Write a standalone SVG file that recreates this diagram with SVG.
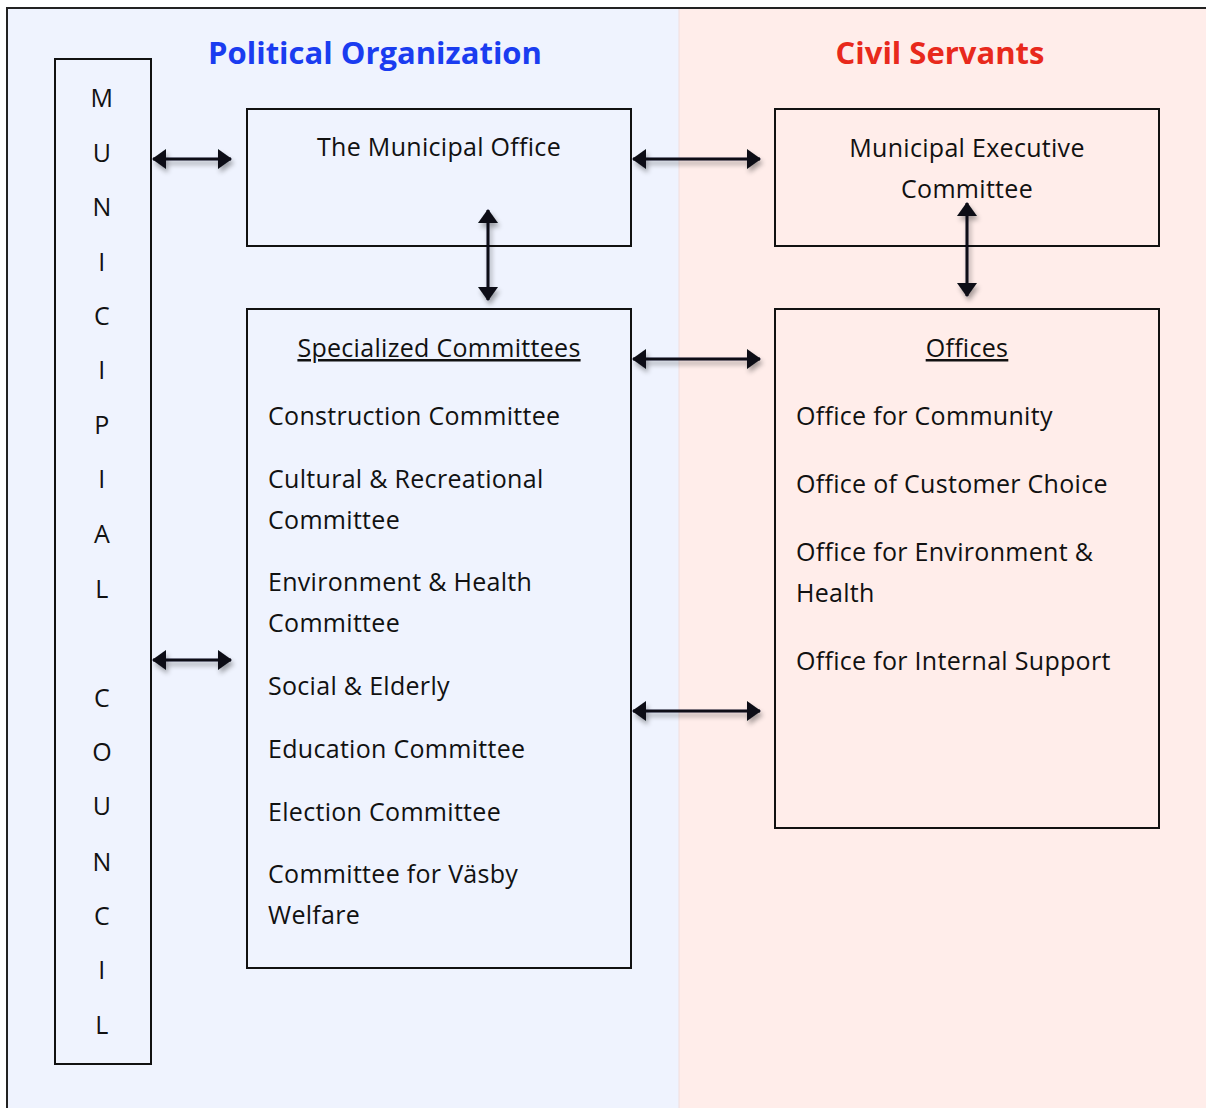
<svg xmlns="http://www.w3.org/2000/svg" width="1206" height="1108" viewBox="0 0 1206 1108">
<defs>
<style>
.box{fill:none;stroke:#111;stroke-width:2}
.t{font-family:"Open Sans","Noto Sans",sans-serif;font-size:25px;fill:#111;letter-spacing:0.3px}
.c{text-anchor:middle}
.h{font-family:"Open Sans","Noto Sans",sans-serif;font-size:31px;font-weight:bold;text-anchor:middle}
.ln{stroke:#0a0d14;stroke-width:3;fill:none;marker-start:url(#ah);marker-end:url(#ah)}
</style>
<marker id="ah" viewBox="0 0 14 20" refX="13" refY="10" markerWidth="14" markerHeight="20" markerUnits="userSpaceOnUse" orient="auto-start-reverse">
<path d="M0,0 L14,10 L0,20 Z" fill="#0a0d14"/>
</marker>
<filter id="sh" x="-20%" y="-50%" width="140%" height="200%">
<feGaussianBlur in="SourceAlpha" stdDeviation="2.5"/>
<feOffset dx="2" dy="4" result="b"/>
<feComponentTransfer><feFuncA type="linear" slope="0.35"/></feComponentTransfer>
<feMerge><feMergeNode/><feMergeNode in="SourceGraphic"/></feMerge>
</filter>
</defs>
<rect x="0" y="0" width="1206" height="1108" fill="#ffffff"/>
<rect x="7" y="8" width="672" height="1100" fill="#eff3fe"/>
<rect x="679" y="8" width="527" height="1100" fill="#ffedea"/>
<line x1="679" y1="8" x2="679" y2="1108" stroke="#f0dede" stroke-width="1"/>
<path d="M7,1108 V8 H1206" fill="none" stroke="#222" stroke-width="2"/>
<text class="h" x="375" y="64" fill="#1a3cf0">Political Organization</text>
<text class="h" x="940" y="64" fill="#e8291c">Civil Servants</text>
<g id="council">
<rect class="box" x="55" y="59" width="96" height="1005"/>
<g class="t c">
<text x="102" y="107">M</text><text x="102" y="162">U</text><text x="102" y="216">N</text><text x="102" y="271">I</text><text x="102" y="325">C</text><text x="102" y="379">I</text><text x="102" y="434">P</text><text x="102" y="488">I</text><text x="102" y="543">A</text><text x="102" y="598">L</text>
<text x="102" y="707">C</text><text x="102" y="761">O</text><text x="102" y="815">U</text><text x="102" y="871">N</text><text x="102" y="925">C</text><text x="102" y="979">I</text><text x="102" y="1034">L</text>
</g>
</g>
<g id="municipal-office">
<rect class="box" x="247" y="109" width="384" height="137"/>
<text class="t c" x="439" y="156">The Municipal Office</text>
</g>
<g id="executive-committee">
<rect class="box" x="775" y="109" width="384" height="137"/>
<text class="t c" x="967" y="157">Municipal Executive</text>
<text class="t c" x="967" y="198">Committee</text>
</g>
<g id="specialized-committees">
<rect class="box" x="247" y="309" width="384" height="659"/>
<text class="t c" x="439" y="357" text-decoration="underline">Specialized Committees</text>
<g class="t">
<text x="268" y="425">Construction Committee</text>
<text x="268" y="488">Cultural &amp; Recreational</text>
<text x="268" y="529">Committee</text>
<text x="268" y="591">Environment &amp; Health</text>
<text x="268" y="632">Committee</text>
<text x="268" y="695">Social &amp; Elderly</text>
<text x="268" y="758">Education Committee</text>
<text x="268" y="821">Election Committee</text>
<text x="268" y="883">Committee for Väsby</text>
<text x="268" y="924">Welfare</text>
</g>
</g>
<g id="offices">
<rect class="box" x="775" y="309" width="384" height="519"/>
<text class="t c" x="967" y="357" text-decoration="underline">Offices</text>
<g class="t">
<text x="796" y="425">Office for Community</text>
<text x="796" y="493">Office of Customer Choice</text>
<text x="796" y="561">Office for Environment &amp;</text>
<text x="796" y="602">Health</text>
<text x="796" y="670">Office for Internal Support</text>
</g>
</g>
<g id="connectors" filter="url(#sh)">
<line class="ln" x1="153" y1="159" x2="231" y2="159"/>
<line class="ln" x1="153" y1="660" x2="231" y2="660"/>
<line class="ln" x1="633" y1="159" x2="760" y2="159"/>
<line class="ln" x1="633" y1="359" x2="760" y2="359"/>
<line class="ln" x1="633" y1="711" x2="760" y2="711"/>
<line class="ln" x1="488" y1="210" x2="488" y2="300"/>
<line class="ln" x1="967" y1="203" x2="967" y2="296"/>
</g>
</svg>
